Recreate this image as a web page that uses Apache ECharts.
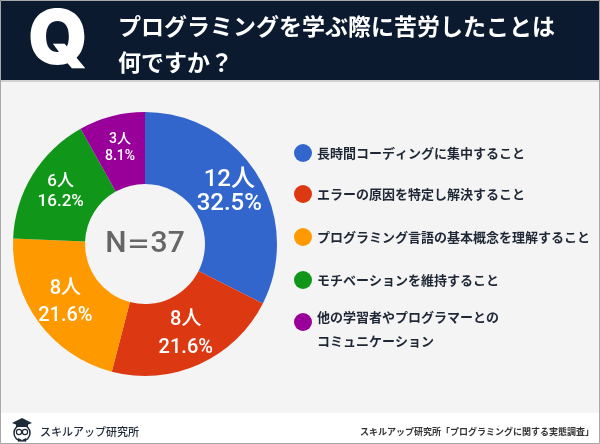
<!DOCTYPE html>
<html><head><meta charset="utf-8">
<script src="https://cdn.jsdelivr.net/npm/echarts@6/dist/echarts.min.js"></script>
<style>html,body{margin:0;padding:0;background:#fff}#c{width:600px;height:444px}</style>
</head><body><div id="c"></div>
<script>
const categories = [
  '長時間コーディングに集中すること',
  'エラーの原因を特定し解決すること',
  'プログラミング言語の基本概念を理解すること',
  'モチベーションを維持すること',
  '他の学習者やプログラマーとの\nコミュニケーション'
];
const counts = [12, 8, 8, 6, 3];
const pctLabels = ['32.5', '21.6', '21.6', '16.2', '8.1'];
const colors = ['#3366CC', '#DC3912', '#FF9900', '#109618', '#990099'];
const labelSizes = [24, 20, 20, 17, 14];
const labelLineHeights = [24, 28, 27, 20, 17];
const legendCenters = [153, 194, 237, 280, 324];
const totalN = 37;

const JP = "'Noto Sans CJK JP', 'Noto Sans', sans-serif";
const NUM = "Roboto, 'Noto Sans CJK JP', sans-serif";

const chart = echarts.init(document.getElementById('c'), null, {renderer: 'canvas'});

const legends = categories.map((name, i) => {
  const multi = name.indexOf('\n') >= 0;
  const ts = {fontSize: 13, fontWeight: 'bold', color: '#1e2735', fontFamily: JP};
  const lg = {
    data: [name],
    left: 294,
    top: multi ? legendCenters[i] - 27 : legendCenters[i] - 9,
    padding: 0,
    orient: 'vertical',
    icon: 'circle',
    itemWidth: 18,
    itemHeight: 18,
    itemGap: 10,
    selectedMode: false,
    textStyle: ts
  };
  if (multi) {
    ts.rich = {
      s: {fontSize: 2, lineHeight: 14},
      t: {fontSize: 13, fontWeight: 'bold', color: '#1e2735', fontFamily: JP, lineHeight: 24}
    };
    lg.formatter = n => '{s| }\n' + n.split('\n').map(l => '{t|' + l + '}').join('\n');
  }
  return lg;
});

const option = {
  animation: false,
  backgroundColor: '#ffffff',
  color: colors,
  legend: legends,
  graphic: [
    {type: 'rect', z: 0, shape: {x: 0, y: 0, width: 600, height: 444}, style: {fill: '#f4f4f4'}},
    {type: 'rect', z: 0, shape: {x: 0, y: 0, width: 600, height: 80}, style: {fill: '#0b1a2e'}},
    {type: 'rect', z: 0, shape: {x: 0, y: 80, width: 600, height: 2}, style: {fill: '#d0d0d0'}},
    {type: 'rect', z: 0, shape: {x: 0, y: 413, width: 600, height: 31}, style: {fill: '#ffffff'}},
    {type: 'rect', z: 10, shape: {x: 0.5, y: 0.5, width: 599, height: 443}, style: {fill: null, stroke: '#a8a8a8', lineWidth: 1}},
    {type: 'text', z: 5, style: {text: 'Q', x: 58, y: 41, align: 'center', verticalAlign: 'middle', textAlign: 'center', textVerticalAlign: 'middle', font: "900 76px Inter, Roboto, sans-serif", fill: '#ffffff'}},
    {type: 'text', z: 5, style: {text: 'プログラミングを学ぶ際に苦労したことは', x: 118, y: 26, align: 'left', verticalAlign: 'middle', textAlign: 'left', textVerticalAlign: 'middle', font: "bold 23px " + JP, fill: '#ffffff'}},
    {type: 'text', z: 5, style: {text: '何ですか？', x: 118, y: 62, align: 'left', verticalAlign: 'middle', textAlign: 'left', textVerticalAlign: 'middle', font: "bold 23px " + JP, fill: '#ffffff'}},
    {type: 'text', z: 5, style: {
      text: '{a|N}{b|＝}{a|' + totalN + '}', x: 145, y: 244, align: 'center', verticalAlign: 'middle', textAlign: 'center', textVerticalAlign: 'middle',
      rich: {
        a: {fontSize: 30, fontWeight: 500, fontFamily: NUM, fill: '#666666', color: '#666666', verticalAlign: 'middle'},
        b: {fontSize: 24, fontWeight: 'bold', fontFamily: JP, fill: '#666666', color: '#666666', verticalAlign: 'middle'}
      }
    }},
    // footer logo
    {type: 'group', z: 5, children: [
      {type: 'circle', shape: {cx: 22, cy: 433, r: 8}, style: {fill: '#ffffff', stroke: '#1f2a38', lineWidth: 1.5}},
      {type: 'circle', shape: {cx: 19, cy: 432, r: 2.6}, style: {fill: '#ffffff', stroke: '#1f2a38', lineWidth: 1.2}},
      {type: 'circle', shape: {cx: 25, cy: 432, r: 2.6}, style: {fill: '#ffffff', stroke: '#1f2a38', lineWidth: 1.2}},
      {type: 'polygon', shape: {points: [[12, 423], [22, 418], [32, 423], [22, 427]]}, style: {fill: '#1f2a38'}},
      {type: 'rect', shape: {x: 16, y: 423, width: 12, height: 4}, style: {fill: '#1f2a38'}},
      {type: 'polygon', shape: {points: [[18, 438], [22, 440], [18, 442]]}, style: {fill: '#1f2a38'}},
      {type: 'polygon', shape: {points: [[26, 438], [22, 440], [26, 442]]}, style: {fill: '#1f2a38'}}
    ]},
    {type: 'text', z: 5, style: {text: 'スキルアップ研究所', x: 40, y: 432, align: 'left', verticalAlign: 'middle', textAlign: 'left', textVerticalAlign: 'middle', font: "500 11px " + JP, fill: '#1f2a38'}},
    {type: 'text', z: 5, style: {text: 'スキルアップ研究所「プログラミングに関する実態調査」', x: 594, y: 432, align: 'right', verticalAlign: 'middle', textAlign: 'right', textVerticalAlign: 'middle', font: "bold 9px " + JP, fill: '#333333'}}
  ],
  series: [{
    type: 'pie',
    center: [145, 244],
    radius: [60, 132],
    startAngle: 90,
    clockwise: true,
    avoidLabelOverlap: false,
    emphasis: {disabled: true},
    silent: true,
    itemStyle: {borderWidth: 0},
    label: {
      show: true,
      position: 'inside',
      color: '#ffffff',
      fontFamily: NUM,
      fontWeight: 500,
      formatter: p => counts[p.dataIndex] + '人\n' + pctLabels[p.dataIndex] + '%'
    },
    labelLine: {show: false},
    data: categories.map((name, i) => ({
      name: name,
      value: counts[i],
      label: {fontSize: labelSizes[i], lineHeight: labelLineHeights[i]}
    }))
  }]
};
chart.setOption(option);
</script></body></html>
